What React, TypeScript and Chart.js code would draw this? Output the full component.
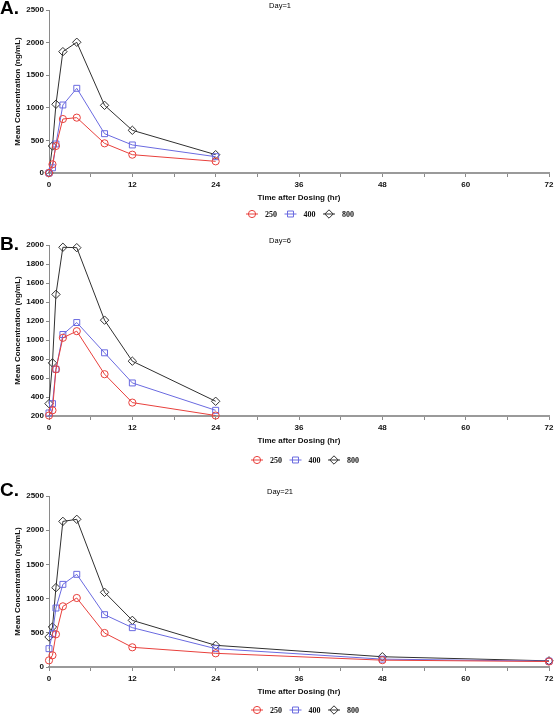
import { useEffect, useRef } from "react";
import { Chart, registerables } from "chart.js";
Chart.register(...registerables);

// ---- data ----
const TIMES_DAY1 = [0, 0.5, 1, 2, 4, 8, 12, 24];
const TIMES_DAY6 = [0, 0.5, 1, 2, 4, 8, 12, 24];
const TIMES_DAY21 = [0, 0.5, 1, 2, 4, 8, 12, 24, 48, 72];

const DAY1_250 = [0, 133, 414, 828, 849, 455, 281, 179];
const DAY1_400 = [0, 80, 445, 1043, 1299, 603, 430, 250];
const DAY1_800 = [0, 414, 1054, 1861, 2005, 1038, 655, 281];

const DAY6_250 = [205, 260, 692, 1023, 1093, 640, 341, 205];
const DAY6_400 = [232, 330, 692, 1058, 1184, 865, 548, 260];
const DAY6_800 = [330, 759, 1480, 1976, 1972, 1209, 777, 355];

const DAY21_250 = [97, 171, 478, 887, 1009, 497, 288, 200, 100, 80];
const DAY21_400 = [268, 487, 862, 1208, 1355, 765, 575, 268, 115, 85];
const DAY21_800 = [439, 585, 1160, 2129, 2159, 1092, 682, 317, 150, 90];

const DOSE_LABELS = ["250", "400", "800"];
const X_TICK_STEP = 6;
const X_LABEL_STEP = 12;

// ---- styles ----
const COLORS = ["#e8403c", "#6a6ae0", "#303030"];
const POINT_STYLES = ["circle", "rect", "rectRot"];
const POINT_RADII = [3.6, 4.2, 4.2];
const W = 560;

type PanelCfg = {
  letter: string;
  title: string;
  top: number;
  height: number;
  plotTop: number;
  plotBottom: number;
  yMin: number;
  yMax: number;
  yStep: number;
  times: number[];
  series: number[][];
  letterY: number;
  titleY: number;
  xTitleY: number;
  legendY: number;
  legendX: number;
};

const PANELS: PanelCfg[] = [
  {
    letter: "A.", title: "Day=1", top: 0, height: 230, plotTop: 10, plotBottom: 173,
    yMin: 0, yMax: 2500, yStep: 500, times: TIMES_DAY1, series: [DAY1_250, DAY1_400, DAY1_800],
    letterY: 9, titleY: 6, xTitleY: 198, legendY: 214, legendX: 247,
  },
  {
    letter: "B.", title: "Day=6", top: 230, height: 240, plotTop: 15, plotBottom: 186,
    yMin: 200, yMax: 2000, yStep: 200, times: TIMES_DAY6, series: [DAY6_250, DAY6_400, DAY6_800],
    letterY: 15, titleY: 11, xTitleY: 211, legendY: 230, legendX: 252,
  },
  {
    letter: "C.", title: "Day=21", top: 470, height: 245, plotTop: 26, plotBottom: 197,
    yMin: 0, yMax: 2500, yStep: 500, times: TIMES_DAY21, series: [DAY21_250, DAY21_400, DAY21_800],
    letterY: 21, titleY: 22, xTitleY: 222, legendY: 240, legendX: 252,
  },
];

function drawMarker(ctx: CanvasRenderingContext2D, style: string, x: number, y: number, r: number) {
  ctx.beginPath();
  if (style === "circle") {
    ctx.arc(x, y, r, 0, Math.PI * 2);
  } else if (style === "rect") {
    const s = r * Math.SQRT1_2;
    ctx.rect(x - s, y - s, 2 * s, 2 * s);
  } else {
    ctx.moveTo(x, y - r);
    ctx.lineTo(x + r, y);
    ctx.lineTo(x, y + r);
    ctx.lineTo(x - r, y);
    ctx.closePath();
  }
  ctx.stroke();
}

function Panel({ cfg }: { cfg: PanelCfg }) {
  const ref = useRef<HTMLCanvasElement | null>(null);
  useEffect(() => {
    if (!ref.current) return;
    const textPlugin = {
      id: "panelText",
      afterDraw(chart: any) {
        const ctx: CanvasRenderingContext2D = chart.ctx;
        const area = chart.chartArea;
        ctx.save();
        // panel letter
        ctx.fillStyle = "#000";
        ctx.font = "bold 19px 'Liberation Sans', Arial, sans-serif";
        ctx.textAlign = "left";
        ctx.textBaseline = "middle";
        ctx.fillText(cfg.letter, 0, cfg.letterY);
        // title
        ctx.font = "7.5px 'Liberation Sans', Arial, sans-serif";
        ctx.textAlign = "center";
        ctx.fillText(cfg.title, W / 2, cfg.titleY);
        // x title
        ctx.font = "bold 8px 'Liberation Sans', Arial, sans-serif";
        ctx.fillStyle = "#111";
        ctx.fillText("Time after Dosing (hr)", (area.left + area.right) / 2, cfg.xTitleY);
        // y title
        ctx.save();
        ctx.translate(17.5, (area.top + area.bottom) / 2);
        ctx.rotate(-Math.PI / 2);
        ctx.fillText("Mean Concentration (ng/mL)", 0, 0);
        ctx.restore();
        // legend
        ctx.font = "bold 8px 'Liberation Serif', 'Times New Roman', serif";
        ctx.textAlign = "left";
        for (let i = 0; i < DOSE_LABELS.length; i++) {
          const sx = cfg.legendX + i * 38.5;
          const y = cfg.legendY;
          ctx.strokeStyle = COLORS[i];
          ctx.lineWidth = 1;
          ctx.beginPath();
          ctx.moveTo(sx - 1, y);
          ctx.lineTo(sx + 11, y);
          ctx.stroke();
          drawMarker(ctx, POINT_STYLES[i], sx + 5, y, POINT_RADII[i]);
          ctx.fillStyle = "#111";
          ctx.fillText(DOSE_LABELS[i], sx + 18, y + 0.5);
        }
        ctx.restore();
      },
    };
    const chart = new Chart(ref.current, {
      type: "line",
      data: {
        datasets: cfg.series.map((vals, i) => ({
          label: DOSE_LABELS[i],
          data: vals.map((v, j) => ({ x: cfg.times[j], y: v })),
          borderColor: COLORS[i],
          borderWidth: 1,
          pointStyle: POINT_STYLES[i] as any,
          pointRadius: POINT_RADII[i],
          pointBorderColor: COLORS[i],
          pointBackgroundColor: "rgba(255,255,255,0)",
          pointBorderWidth: 1,
          tension: 0,
          fill: false,
          clip: false as any,
        })),
      },
      options: {
        responsive: false,
        animation: false,
        layout: { padding: { top: cfg.plotTop, left: 0, right: 11, bottom: 0 } },
        plugins: { legend: { display: false }, title: { display: false }, tooltip: { enabled: false } },
        scales: {
          x: {
            type: "linear",
            min: 0,
            max: 72,
            afterFit: (axis: any) => {
              axis.height = cfg.height - cfg.plotBottom;
            },
            ticks: {
              stepSize: X_TICK_STEP,
              autoSkip: false,
              maxRotation: 0,
              padding: 3,
              color: "#111",
              font: { family: "'Liberation Sans', Arial, sans-serif", size: 8, weight: "bold" },
              callback: (v: any) => (Number(v) % X_LABEL_STEP === 0 ? String(v) : ""),
            },
            grid: { drawOnChartArea: false, drawTicks: true, tickLength: 4, color: "#8a8a8a" },
            border: { display: true, color: "#9a9a9a", width: 2 },
          },
          y: {
            type: "linear",
            min: cfg.yMin,
            max: cfg.yMax,
            afterFit: (axis: any) => {
              axis.width = 49;
            },
            ticks: {
              stepSize: cfg.yStep,
              autoSkip: false,
              padding: 2,
              color: "#111",
              font: { family: "'Liberation Sans', Arial, sans-serif", size: 8, weight: "bold" },
              callback: (v: any) => String(v),
            },
            grid: { drawOnChartArea: false, drawTicks: true, tickLength: 3, color: "#8a8a8a" },
            border: { display: true, color: "#8a8a8a", width: 1 },
          },
        },
      },
      plugins: [textPlugin],
    });
    return () => chart.destroy();
  }, [cfg]);
  return (
    <canvas
      ref={ref}
      width={W}
      height={cfg.height}
      style={{ position: "absolute", left: 0, top: cfg.top, width: W, height: cfg.height, display: "block" }}
    />
  );
}

export default function App() {
  return (
    <div style={{ position: "absolute", left: 0, top: 0, width: W, height: 715, background: "#fff" }}>
      {PANELS.map((p) => (
        <Panel key={p.letter} cfg={p} />
      ))}
    </div>
  );
}
